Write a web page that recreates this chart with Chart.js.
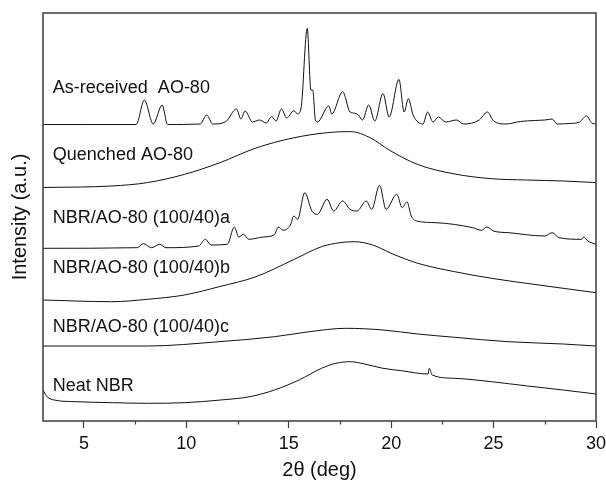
<!DOCTYPE html>
<html>
<head>
<meta charset="utf-8">
<script src="https://cdn.jsdelivr.net/npm/chart.js@4"></script>
<style>
  body { margin: 0; background: #fff; }
</style>
</head>
<body>
<canvas id="xrdChart" width="606" height="482"></canvas>
<script>
// 2theta (deg) and stacked intensity (a.u.)
const asReceivedX = [3.0, 5.0, 7.55, 7.95, 8.38, 8.82, 9.08, 10.67, 10.99, 11.29, 11.9, 12.45, 12.66, 12.87, 13.22, 13.58, 13.9, 14.16, 14.38, 14.64, 14.9, 15.25, 15.43, 15.6, 15.9, 16.08, 16.17, 16.3, 16.4, 16.95, 17.1, 17.63, 17.99, 18.16, 18.4, 18.6, 18.9, 19.2, 19.6, 19.9, 20.38, 20.63, 20.84, 21.07, 21.55, 21.78, 22.04, 22.3, 22.66, 23.19, 23.54, 24.3, 24.7, 25.0, 25.6, 26.3, 27.0, 27.5, 27.86, 28.1, 28.7, 29.2, 29.53, 29.8, 30.0];
const asReceivedY = [296.5, 296.5, 296.5, 321, 297, 316, 296.5, 297, 306, 297, 299, 312, 302, 310, 299, 301, 298, 304.4, 300, 312, 303, 310.3, 307, 313, 392.5, 331, 331, 301, 299, 315, 307, 329.4, 309, 308, 306, 301, 316, 300, 327.4, 304, 341.6, 309, 322.4, 306, 297, 309, 299, 304, 299, 301, 297, 301, 309, 300, 297, 299.5, 300.5, 301, 302, 297, 297.5, 299, 305, 298, 297];

const quenchedX = [3.0, 6.35, 8.1, 9.9, 11.6, 13.4, 15.2, 16.9, 18.0, 19.0, 19.9, 21.3, 23.1, 24.9, 26.6, 28.4, 30.0];
const quenchedY = [233.5, 235, 238.4, 246.6, 258, 273, 283, 288.4, 289.4, 283, 271, 256.5, 247, 242.3, 241, 240, 238.4];

const blendAX = [3.0, 7.58, 7.9, 8.3, 8.7, 9.0, 10.6, 10.93, 11.2, 12.0, 12.34, 12.56, 12.78, 13.05, 13.75, 14.28, 14.5, 14.72, 15.08, 15.25, 15.43, 15.78, 16.13, 16.4, 16.87, 17.19, 17.63, 17.99, 18.33, 18.78, 19.05, 19.43, 19.75, 20.27, 20.54, 20.77, 20.98, 21.24, 22.2, 23.98, 24.4, 24.68, 25.0, 25.74, 27.5, 27.86, 28.2, 29.3, 29.4, 29.6, 30.0];
const blendAY = [172.7, 173.3, 177.3, 173.3, 176.7, 173.3, 175, 181.7, 176, 176.7, 194, 184, 186.7, 181.7, 184, 186, 194, 190.7, 196, 205, 201.7, 228.3, 210, 206.7, 221.7, 210, 220, 211.7, 210, 220, 211.7, 235.7, 211.7, 226.7, 213.3, 219.3, 205, 200, 198.3, 193.3, 190.7, 194, 190, 188.3, 185, 188.3, 183.3, 181.7, 184, 180, 176.7];

const blendBX = [3.0, 6.35, 8.1, 9.9, 11.6, 13.4, 15.2, 16.6, 17.5, 18.2, 19.1, 20.0, 21.3, 23.1, 24.9, 26.6, 28.4, 30.0];
const blendBY = [121, 119.3, 121.7, 126, 134.3, 144.3, 161, 174.3, 178.3, 179.3, 176, 167.7, 157.7, 149.3, 142.7, 137.7, 132.7, 128.3];

const blendCX = [3.0, 8.1, 11.6, 14.3, 16.0, 17.8, 19.6, 21.3, 23.1, 25.7, 28.4, 30.0];
const blendCY = [75, 75, 79.3, 84.3, 89.3, 92.7, 91, 87, 83.7, 79.3, 77, 75];

const neatX = [3.0, 3.2, 3.55, 4.6, 6.4, 8.1, 9.9, 11.67, 13.1, 14.3, 15.5, 16.6, 17.3, 18.0, 18.7, 19.6, 20.5, 21.8, 21.86, 22.0, 23.1, 24.9, 26.66, 28.4, 30.0];
const neatY = [31, 24.3, 21, 19.3, 18.3, 17.7, 18.3, 21, 24.3, 31, 41, 52.7, 57.7, 59.3, 57, 52.7, 50.3, 47, 52.7, 46, 42.7, 39.3, 35, 31, 27];

const curveNames = ['As-received  AO-80', 'Quenched AO-80', 'NBR/AO-80 (100/40)a', 'NBR/AO-80 (100/40)b', 'NBR/AO-80 (100/40)c', 'Neat NBR'];
const labelX = [3.48, 3.48, 3.48, 3.48, 3.48, 3.48];
const labelY = [328.3, 261, 197.7, 148, 89.3, 30.5];

const xTicks = [5, 10, 15, 20, 25, 30];
const xMinorTicks = [7.5, 12.5, 17.5, 22.5, 27.5];

const allX = [asReceivedX, quenchedX, blendAX, blendBX, blendCX, neatX];
const allY = [asReceivedY, quenchedY, blendAY, blendBY, blendCY, neatY];

const datasets = allX.map((xs, i) => ({
    label: curveNames[i],
    data: xs.map((x, j) => ({ x: x, y: allY[i][j] })),
    borderColor: '#111',
    borderWidth: 1,
    pointRadius: 0,
    fill: false,
    cubicInterpolationMode: 'monotone'
}))

const frameColor = '#3c3c3c'

// box round the plot, minor ticks and the curve names
const framePlugin = {
    id: 'frame',
    afterDraw(chart) {
        const ctx = chart.ctx
        const a = chart.chartArea
        const xs = chart.scales.x
        const ys = chart.scales.y
        ctx.save()
        ctx.strokeStyle = frameColor
        ctx.lineWidth = 1.5
        ctx.strokeRect(a.left, a.top, a.right - a.left, a.bottom - a.top)
        ctx.lineWidth = 1.2
        xMinorTicks.forEach((v) => {
            const px = Math.round(xs.getPixelForValue(v)) + 0.5
            ctx.beginPath()
            ctx.moveTo(px, a.bottom)
            ctx.lineTo(px, a.bottom + 3.5)
            ctx.stroke()
        })
        ctx.fillStyle = '#111'
        ctx.font = '18px "Liberation Sans", Arial, sans-serif'
        ctx.textBaseline = 'alphabetic'
        curveNames.forEach((name, i) => {
            ctx.fillText(name, xs.getPixelForValue(labelX[i]), ys.getPixelForValue(labelY[i]))
        })
        ctx.restore()
    }
}

const config = {
    type: 'line',
    data: { datasets: datasets },
    options: {
        responsive: false,
        animation: false,
        layout: { padding: { top: 13, right: 10, left: 0, bottom: 0 } },
        plugins: {
            legend: { display: false },
            tooltip: { enabled: false }
        },
        scales: {
            x: {
                type: 'linear',
                min: 3,
                max: 30,
                afterBuildTicks: (s) => { s.ticks = xTicks.map((v) => ({ value: v })) },
                afterFit: (s) => {
                    s.height = 61
                    s.paddingLeft = 0
                    s.paddingRight = 0
                },
                border: { display: false },
                grid: {
                    drawOnChartArea: false,
                    drawTicks: true,
                    tickLength: 7,
                    tickWidth: 1.2,
                    tickColor: frameColor
                },
                ticks: {
                    color: '#111',
                    padding: 5,
                    maxRotation: 0,
                    font: { family: '"Liberation Sans", Arial, sans-serif', size: 18 }
                },
                title: {
                    display: true,
                    text: '2θ (deg)',
                    color: '#111',
                    padding: { top: 0, bottom: 0 },
                    font: { family: '"Liberation Sans", Arial, sans-serif', size: 20 }
                }
            },
            y: {
                min: 0,
                max: 408,
                afterFit: (s) => { s.width = 43 },
                border: { display: false },
                grid: { display: false },
                ticks: { display: false },
                title: {
                    display: true,
                    text: 'Intensity (a.u.)',
                    color: '#111',
                    padding: { top: 8, bottom: 0 },
                    font: { family: '"Liberation Sans", Arial, sans-serif', size: 20 }
                }
            }
        }
    },
    plugins: [framePlugin]
};

const ctxXrd = document.getElementById('xrdChart');

new Chart(ctxXrd, config);
</script>
</body>
</html>
